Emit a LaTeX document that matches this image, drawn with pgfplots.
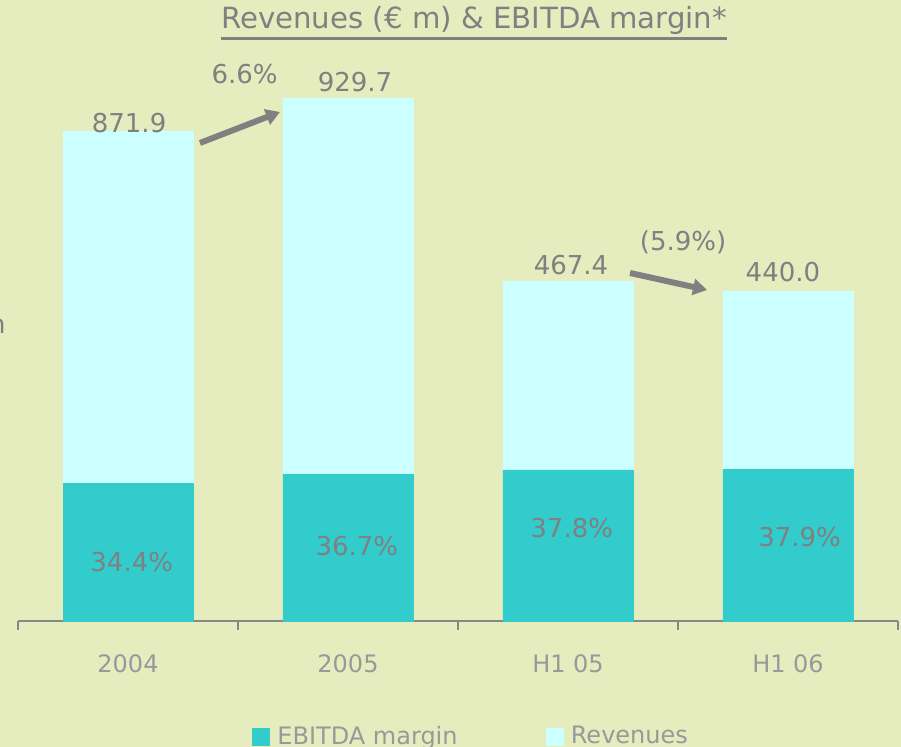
\documentclass[border=0pt]{standalone}
\usepackage{pgfplots}
\pgfplotsset{compat=1.18}
\usepackage{fontspec}
\setmainfont{DejaVu Sans}
\usetikzlibrary{arrows.meta}
\definecolor{bg}{HTML}{E5EDBF}
\definecolor{teal2}{HTML}{33CCCC}
\definecolor{cyan2}{HTML}{CCFFFF}
\definecolor{txt}{HTML}{808080}
\definecolor{lbl}{HTML}{999999}
\definecolor{axl}{HTML}{888888}
\tikzset{vl/.style={text=txt, anchor=base, inner sep=0pt, font=\fontsize{13}{15}\selectfont},
  garrow/.style={draw=txt, line width=3pt, -{Triangle[length=7pt, width=8pt]}}}
\begin{document}
\begin{tikzpicture}
\fill[bg] (-9pt,-63pt) rectangle (441.5pt,310.5pt);
\begin{axis}[
 scale only axis, width=440pt, height=310.5pt,
 xmin=-0.5, xmax=3.5, ymin=0, ymax=155.25,
 ybar stacked, bar width=65pt,
 axis x line*=bottom, axis y line=none,
 x axis line style={draw=axl, line width=1pt},
 xtick={0,1,2,3}, xticklabels={2004,2005,H1 05,H1 06},
 tick align=outside,
 major tick length=0pt, minor tick length=4.5pt,
 minor xtick={-0.5,0.5,1.5,2.5,3.5},
 tick style={draw=axl, line width=0.8pt},
 xticklabel style={font=\fontsize{12}{14}\selectfont, text=lbl, anchor=base, yshift=-26pt},
 clip=false,
 legend columns=2,
 legend style={draw=none, fill=none, at={(axis cs:1.573,-28.9)}, anchor=center,
   font=\fontsize{12}{14}\selectfont, text=lbl,
   nodes={inner xsep=4pt},
   /tikz/every even column/.append style={column sep=40pt}},
 area legend,
 legend image post style={xscale=0.5, yscale=1.5},
]
\addplot[fill=teal2, draw=teal2, line width=0.1pt] coordinates {(0,34.4) (1,36.7) (2,37.8) (3,37.9)};
\addplot[fill=cyan2, draw=cyan2, line width=0.1pt] coordinates {(0,88.1) (1,94.1) (2,47.2) (3,44.6)};
\legend{EBITDA margin, Revenues}
\coordinate (v1) at (axis cs:0.005,122);
\coordinate (v2) at (axis cs:1.032,132.25);
\coordinate (g1) at (axis cs:0.530,134.25);
\coordinate (v3) at (axis cs:2.014,86.5);
\coordinate (v4) at (axis cs:2.977,84.75);
\coordinate (g2) at (axis cs:2.523,92.5);
\coordinate (m1) at (axis cs:0.017,12.25);
\coordinate (m2) at (axis cs:1.040,16.25);
\coordinate (m3) at (axis cs:2.017,20.75);
\coordinate (m4) at (axis cs:3.053,18.5);
\coordinate (nn) at (axis cs:-0.5545,71.75);
\coordinate (a1s) at (axis cs:0.327,119.5);
\coordinate (a1e) at (axis cs:0.691,127.25);
\coordinate (a2s) at (axis cs:2.282,87);
\coordinate (a2e) at (axis cs:2.632,82.75);
\coordinate (tpos) at (axis cs:1.573,148);
\end{axis}
\node[vl] at (v1) {871.9};
\node[vl] at (v2) {929.7};
\node[vl] at (g1) {6.6\%};
\node[vl] at (v3) {467.4};
\node[vl] at (v4) {440.0};
\node[vl] at (g2) {(5.9\%)};
\node[vl] at (m1) {34.4\%};
\node[vl] at (m2) {36.7\%};
\node[vl] at (m3) {37.8\%};
\node[vl] at (m4) {37.9\%};
\node[vl, anchor=base east] at (nn) {n};
\draw[garrow] (a1s) -- (a1e);
\draw[garrow] (a2s) -- (a2e);
\node[text=txt, anchor=base, inner sep=0pt, font=\fontsize{14.6}{17}\selectfont] (T) at (tpos) {Revenues (€ m) \& EBITDA margin*};
\draw[txt, line width=1.5pt] ([yshift=-4.75pt]T.base west) -- ([yshift=-4.75pt]T.base east);
\pgfresetboundingbox
\path[use as bounding box] (-9pt,-63pt) rectangle (441.5pt,310.5pt);
\end{tikzpicture}
\end{document}
